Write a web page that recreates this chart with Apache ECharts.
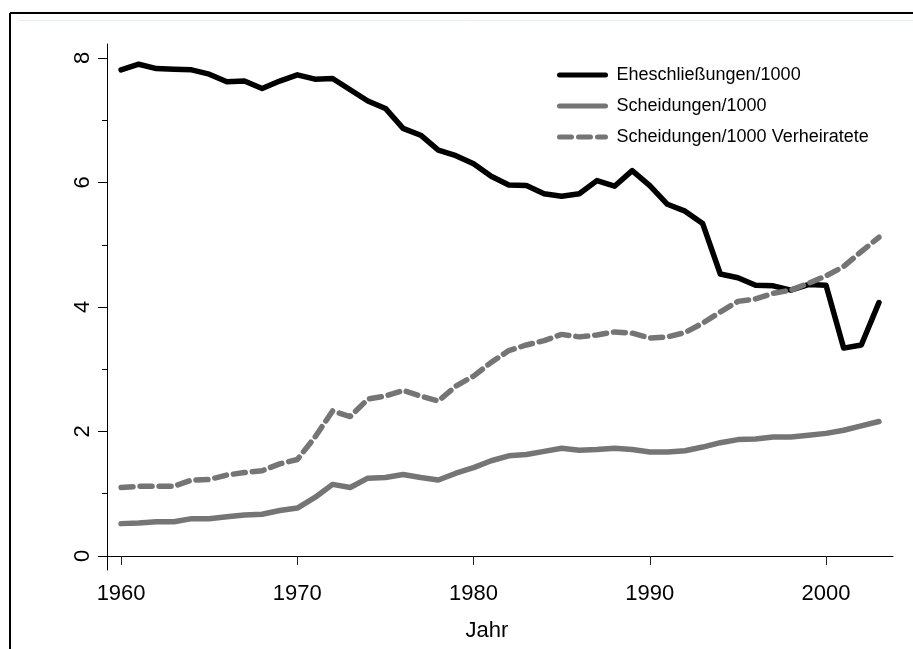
<!DOCTYPE html>
<html>
<head>
<meta charset="utf-8">
<script src="https://cdn.jsdelivr.net/npm/echarts@6/dist/echarts.min.js"></script>
<style>
html,body{margin:0;padding:0;background:#fff;}
#chart{width:913px;height:649px;}
</style>
</head>
<body>
<div id="chart"></div>
<script>
const years = [1960,1961,1962,1963,1964,1965,1966,1967,1968,1969,
  1970,1971,1972,1973,1974,1975,1976,1977,1978,1979,
  1980,1981,1982,1983,1984,1985,1986,1987,1988,1989,
  1990,1991,1992,1993,1994,1995,1996,1997,1998,1999,
  2000,2001,2002,2003];
const marriages = [7.81,7.90,7.83,7.82,7.81,7.74,7.62,7.63,7.51,7.63,
  7.73,7.66,7.67,7.49,7.31,7.19,6.87,6.76,6.52,6.43,
  6.30,6.10,5.96,5.95,5.82,5.78,5.82,6.03,5.94,6.19,
  5.95,5.65,5.54,5.34,4.53,4.47,4.35,4.34,4.27,4.36,
  4.35,3.34,3.39,4.07];
const divorces = [0.52,0.53,0.55,0.55,0.60,0.60,0.63,0.66,0.67,0.73,
  0.77,0.94,1.15,1.10,1.25,1.26,1.31,1.26,1.22,1.33,
  1.42,1.53,1.61,1.63,1.68,1.73,1.70,1.71,1.73,1.71,
  1.67,1.67,1.69,1.75,1.82,1.87,1.88,1.91,1.91,1.94,
  1.97,2.02,2.09,2.16];
const divorcesMarried = [1.10,1.12,1.12,1.12,1.22,1.23,1.30,1.34,1.37,1.48,
  1.55,1.91,2.33,2.24,2.52,2.57,2.66,2.57,2.49,2.73,
  2.89,3.11,3.30,3.39,3.46,3.56,3.52,3.55,3.60,3.58,
  3.50,3.52,3.59,3.74,3.92,4.09,4.13,4.22,4.27,4.38,
  4.50,4.65,4.89,5.12];
const seriesNames = ['Eheschließungen/1000','Scheidungen/1000','Scheidungen/1000 Verheiratete'];
const xTicks = [1960,1970,1980,1990,2000];
const yMajorTicks = [0,2,4,6,8];
const yMinorTicks = [1,3,5,7];
const xTitle = 'Jahr';

const pairs = arr => years.map((y,i) => [y, arr[i]]);
const FONT = '"Liberation Sans", Arial, sans-serif';
const GRAY = '#757575';

const chart = echarts.init(document.getElementById('chart'), null, {renderer:'canvas'});
chart.setOption({
  animation:false,
  backgroundColor:'#fff',
  grid:{left:107, right:20, top:44, bottom:79},
  graphic:[
    {type:'line', shape:{x1:10,y1:13,x2:913,y2:13}, style:{stroke:'#000',lineWidth:2}},
    {type:'line', shape:{x1:10,y1:13,x2:10,y2:649}, style:{stroke:'#000',lineWidth:2}},
    {type:'line', shape:{x1:18,y1:20.5,x2:913,y2:20.5}, style:{stroke:'#e6eef6',lineWidth:1}}
  ],
  legend:{
    orient:'vertical', left:552, top:61,
    itemWidth:46, itemHeight:16, itemGap:13,
    data:seriesNames,
    lineStyle:{width:5, cap:'round'},
    itemStyle:{color:'rgba(0,0,0,0)', opacity:0, borderWidth:0},
    textStyle:{fontFamily:FONT, fontSize:18, color:'#000', padding:[0,0,0,6]}
  },
  xAxis:{
    type:'value', min:1959.2, max:2003.8,
    name:xTitle, nameLocation:'middle', nameGap:50,
    nameTextStyle:{fontFamily:FONT, fontSize:22, color:'#000', padding:[0,26,0,0]},
    axisLine:{show:true, lineStyle:{color:'#000', width:1}},
    axisTick:{show:true, length:9, customValues:xTicks, lineStyle:{color:'#222'}},
    axisLabel:{customValues:xTicks, margin:13, fontFamily:FONT, fontSize:22, color:'#000',
      formatter: v => String(v)},
    splitLine:{show:false}
  },
  yAxis:[{
    type:'value', min:-0.225, max:8.225,
    axisLine:{show:true, lineStyle:{color:'#000', width:1}},
    axisTick:{show:true, length:9, customValues:yMajorTicks, lineStyle:{color:'#000'}},
    axisLabel:{customValues:yMajorTicks, rotate:90, margin:13, fontFamily:FONT, fontSize:22, color:'#000',
      formatter: v => String(v)},
    splitLine:{show:false}
  },{
    type:'value', min:-0.225, max:8.225, position:'left',
    axisLine:{show:false},
    axisTick:{show:true, length:5, customValues:yMinorTicks, lineStyle:{color:'#000'}},
    axisLabel:{show:false},
    splitLine:{show:false}
  }],
  series:[
    {name:seriesNames[0], type:'line', data:pairs(marriages), symbol:'none', yAxisIndex:0,
     lineStyle:{color:'#000', width:5.5, cap:'round', join:'round'}, itemStyle:{color:'#000'}},
    {name:seriesNames[1], type:'line', data:pairs(divorces), symbol:'none', yAxisIndex:0,
     lineStyle:{color:GRAY, width:5.5, cap:'round', join:'round'}, itemStyle:{color:GRAY}},
    {name:seriesNames[2], type:'line', data:pairs(divorcesMarried), symbol:'none', yAxisIndex:0,
     lineStyle:{color:GRAY, width:5.5, type:[12,7], cap:'round', join:'round'}, itemStyle:{color:GRAY}}
  ]
});
</script>
</body>
</html>
